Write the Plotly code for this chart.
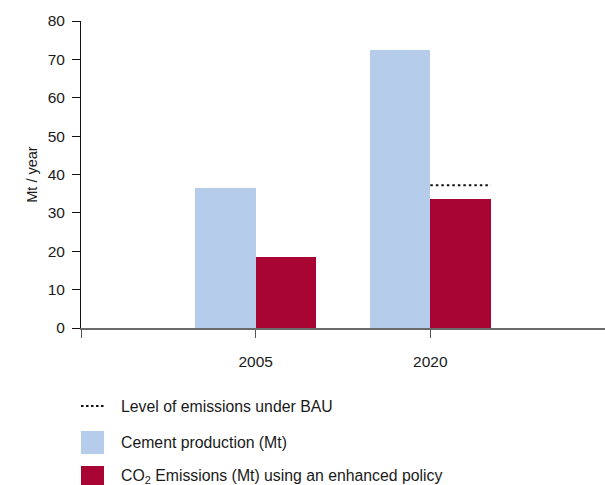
import plotly.graph_objects as go

years = ["2005", "2020"]
cement = [36.5, 72.4]
co2 = [18.5, 33.6]
bau = [None, 37.2]

y_ticks = [0, 10, 20, 30, 40, 50, 60, 70, 80]

legend_labels = [
    "Level of emissions under BAU",
    "Cement production (Mt)",
    "CO<sub>2</sub> Emissions (Mt) using an enhanced policy",
]

BLUE = "#b5cdeb"
RED = "#a80535"
FONT = "Liberation Sans, Arial, Helvetica, sans-serif"
TXT = "#1a1a1a"

W, H = 605, 485
ML, MR, MT, MB = 81, 0, 21, 157
PW, PH = W - ML - MR, H - MT - MB

BW = 0.347  # bar width in category units
pos = list(range(len(years)))

fig = go.Figure()
fig.add_trace(go.Bar(x=pos, y=cement, width=BW, offset=-BW, marker_color=BLUE,
                     marker_line_width=0, name="Cement production (Mt)"))
fig.add_trace(go.Bar(x=pos, y=co2, width=BW, offset=0, marker_color=RED,
                     marker_line_width=0, name="CO2 Emissions"))

# BAU dotted line over CO2 bar
for p, v in zip(pos, bau):
    if v is None:
        continue
    fig.add_trace(go.Scatter(x=[p, p + BW], y=[v, v], mode="lines",
                             line=dict(color="#111", width=2.2, dash="2.5px,3px"),
                             hoverinfo="skip", showlegend=False))


def px_x(x):
    return (x - ML) / PW


def px_y(y):
    return (H - MB - y) / PH


shapes = []
annotations = []
# legend: dotted line
shapes.append(dict(type="line", xref="paper", yref="paper",
                   x0=px_x(81), x1=px_x(104), y0=px_y(406), y1=px_y(406),
                   line=dict(color="#111", width=2.2, dash="2.5px,2.5px")))
# legend squares
shapes.append(dict(type="rect", xref="paper", yref="paper",
                   x0=px_x(81), x1=px_x(104), y0=px_y(431), y1=px_y(454),
                   fillcolor=BLUE, line_width=0))
shapes.append(dict(type="rect", xref="paper", yref="paper",
                   x0=px_x(81), x1=px_x(104), y0=px_y(466), y1=px_y(489),
                   fillcolor=RED, line_width=0))
for lbl, yc in zip(legend_labels, [406, 442, 476]):
    annotations.append(dict(text=lbl, xref="paper", yref="paper",
                            x=px_x(119), y=px_y(yc), xanchor="left", yanchor="middle",
                            showarrow=False, font=dict(size=15.8, color=TXT, family=FONT)))

fig.update_layout(
    width=W, height=H,
    margin=dict(l=ML, r=MR, t=MT, b=MB),
    plot_bgcolor="white", paper_bgcolor="white",
    showlegend=False,
    bargap=0, barmode="group",
    font=dict(family=FONT, size=15, color=TXT),
    shapes=shapes, annotations=annotations,
    xaxis=dict(range=[-1, 2], tickvals=[-1] + pos, ticktext=[""] + years,
               showline=True, linecolor="#6a6a6a", linewidth=1.5,
               ticks="outside", ticklen=8, tickcolor="#555", tickwidth=1.2,
               showgrid=False, zeroline=False, ticklabelstandoff=11,
               tickfont=dict(size=15.5, color=TXT)),
    yaxis=dict(range=[0, 80], tickvals=y_ticks,
               showline=True, linecolor="#111", linewidth=1,
               ticks="outside", ticklen=8, tickcolor="#111", tickwidth=1,
               showgrid=False, zeroline=False, ticklabelstandoff=4,
               tickfont=dict(size=15.5, color=TXT),
               title=dict(text="Mt / year", font=dict(size=14.5, color=TXT), standoff=6)),
)

fig.write_html(
    "out.html",
    config={"displayModeBar": False},
    post_script="document.body.style.margin='0';document.body.style.overflow='hidden';",
)
